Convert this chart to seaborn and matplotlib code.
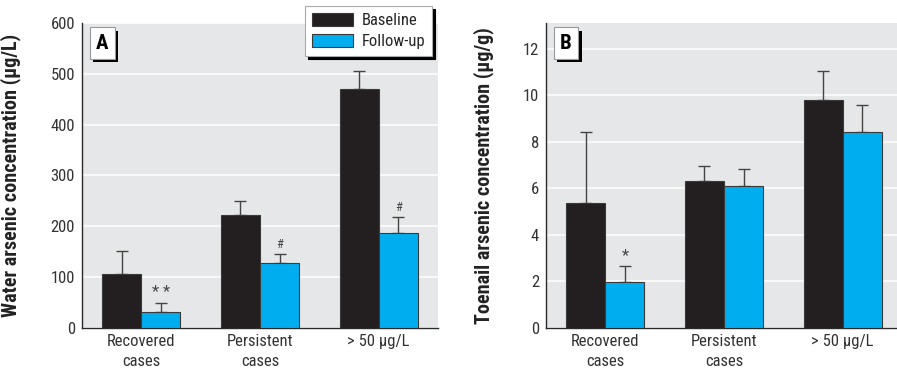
import matplotlib
matplotlib.use("Agg")
import matplotlib.pyplot as plt
import matplotlib.patheffects as pe
from matplotlib.patches import Patch
import seaborn as sns
import pandas as pd

categories = ["Recovered\ncases", "Persistent\ncases", "> 50 µg/L"]
groups = ["Baseline", "Follow-up"]

water_baseline = [106, 223, 470]
water_baseline_err = [46, 27, 36]
water_follow = [32, 127, 186]
water_follow_err = [17, 19, 33]
water_marks = ["* *", "#", "#"]

toenail_baseline = [5.35, 6.31, 9.81]
toenail_baseline_err = [3.08, 0.63, 1.23]
toenail_follow = [1.97, 6.12, 8.43]
toenail_follow_err = [0.70, 0.72, 1.15]
toenail_marks = ["*", "", ""]

colors = {"Baseline": "#231f20", "Follow-up": "#00aeef"}
BG = "#e6e7e8"

sns.set_theme(style="white")
plt.rcParams["font.family"] = ["Roboto Condensed", "Roboto", "DejaVu Sans"]

W, H = 897, 369
fig = plt.figure(figsize=(W / 100, H / 100), dpi=100)


def px_axes(x0, y0, x1, y1):
    return fig.add_axes([x0 / W, 1 - y1 / H, (x1 - x0) / W, (y1 - y0) / H])


def panel(ax, base, base_err, fol, fol_err, marks, ylim, yticks, ylabel, letter, xright, labx):
    df = pd.DataFrame({
        "cat": categories * 2,
        "grp": [groups[0]] * 3 + [groups[1]] * 3,
        "val": list(base) + list(fol),
    })
    sns.barplot(data=df, x="cat", y="val", hue="grp", order=categories,
                hue_order=groups, palette=colors, width=0.66, errorbar=None,
                edgecolor="#3a3a3a", linewidth=0.8, ax=ax, legend=False, zorder=3,
                saturation=1)
    ax.set_facecolor(BG)
    ax.set_ylim(*ylim)
    ax.set_xlim(-0.5, xright)
    ax.set_yticks(yticks)
    ax.set_xticks(range(len(categories)))
    ax.set_xticklabels(categories, linespacing=1.45)
    ax.grid(axis="y", color="white", lw=1.1, zorder=0)
    ax.set_axisbelow(True)
    for s in ["top", "right"]:
        ax.spines[s].set_visible(False)
    for s in ["left", "bottom"]:
        ax.spines[s].set_color("#2a2a2a")
        ax.spines[s].set_linewidth(1.0)
    ax.tick_params(axis="both", length=0, labelsize=12, colors="#333333", pad=5)
    ax.tick_params(axis="x", pad=4)
    ax.set_xlabel("")
    ax.set_ylabel(ylabel, fontsize=14.5, fontweight="bold", color="#222222")
    ax.yaxis.set_label_coords(labx, 0.5)

    patches = ax.patches
    vals = list(base) + list(fol)
    errs = list(base_err) + list(fol_err)
    for i, p in enumerate(patches[:6]):
        xc = p.get_x() + p.get_width() / 2
        ax.errorbar([xc], [vals[i]], yerr=[[0], [errs[i]]], fmt="none",
                    ecolor="#444444", elinewidth=1.0, capsize=4, capthick=1.0, zorder=2)
    for j, m in enumerate(marks):
        if not m:
            continue
        p = patches[3 + j]
        xc = p.get_x() + p.get_width() / 2
        ax.annotate(m, (xc, fol[j] + fol_err[j]), xytext=(0, 2),
                    textcoords="offset points", ha="center", va="bottom",
                    fontsize=12 if "*" in m else 9, color="#444444")

    t = ax.text(0.057, 0.934, letter, transform=ax.transAxes, ha="center", va="center",
                fontsize=15, fontweight="bold", color="black", zorder=6,
                bbox=dict(boxstyle="square,pad=0.3", fc="white", ec="#999999", lw=0.8))
    t.get_bbox_patch().set_path_effects([
        pe.SimplePatchShadow(offset=(2.5, -2.5), shadow_rgbFace="black", alpha=1),
        pe.Normal()])


axA = px_axes(82, 23, 438, 328)
panel(axA, water_baseline, water_baseline_err, water_follow, water_follow_err,
      water_marks, (0, 600), range(0, 601, 100),
      "Water arsenic concentration (µg/L)", "A", 2.5, -0.17)

axB = px_axes(546, 23, 897, 328)
panel(axB, toenail_baseline, toenail_baseline_err, toenail_follow, toenail_follow_err,
      toenail_marks, (0, 13.1), range(0, 13, 2),
      "Toenail arsenic concentration (µg/g)", "B", 2.5 - 5 / 118.7, -0.148)

handles = [Patch(facecolor=colors[g], edgecolor="#3a3a3a", lw=0.8) for g in groups]
leg = fig.legend(handles, groups, loc="upper left", bbox_to_anchor=(305 / W, 1 - 6 / H),
                 bbox_transform=fig.transFigure, borderaxespad=0, fontsize=12,
                 handlelength=2.45, handleheight=0.85, frameon=True, fancybox=False,
                 edgecolor="#aaaaaa", framealpha=1, borderpad=0.4, labelspacing=0.35,
                 handletextpad=0.55,
                 shadow={"color": "black", "alpha": 1})
leg.get_frame().set_linewidth(0.8)

fig.savefig("out.png", dpi=100)
